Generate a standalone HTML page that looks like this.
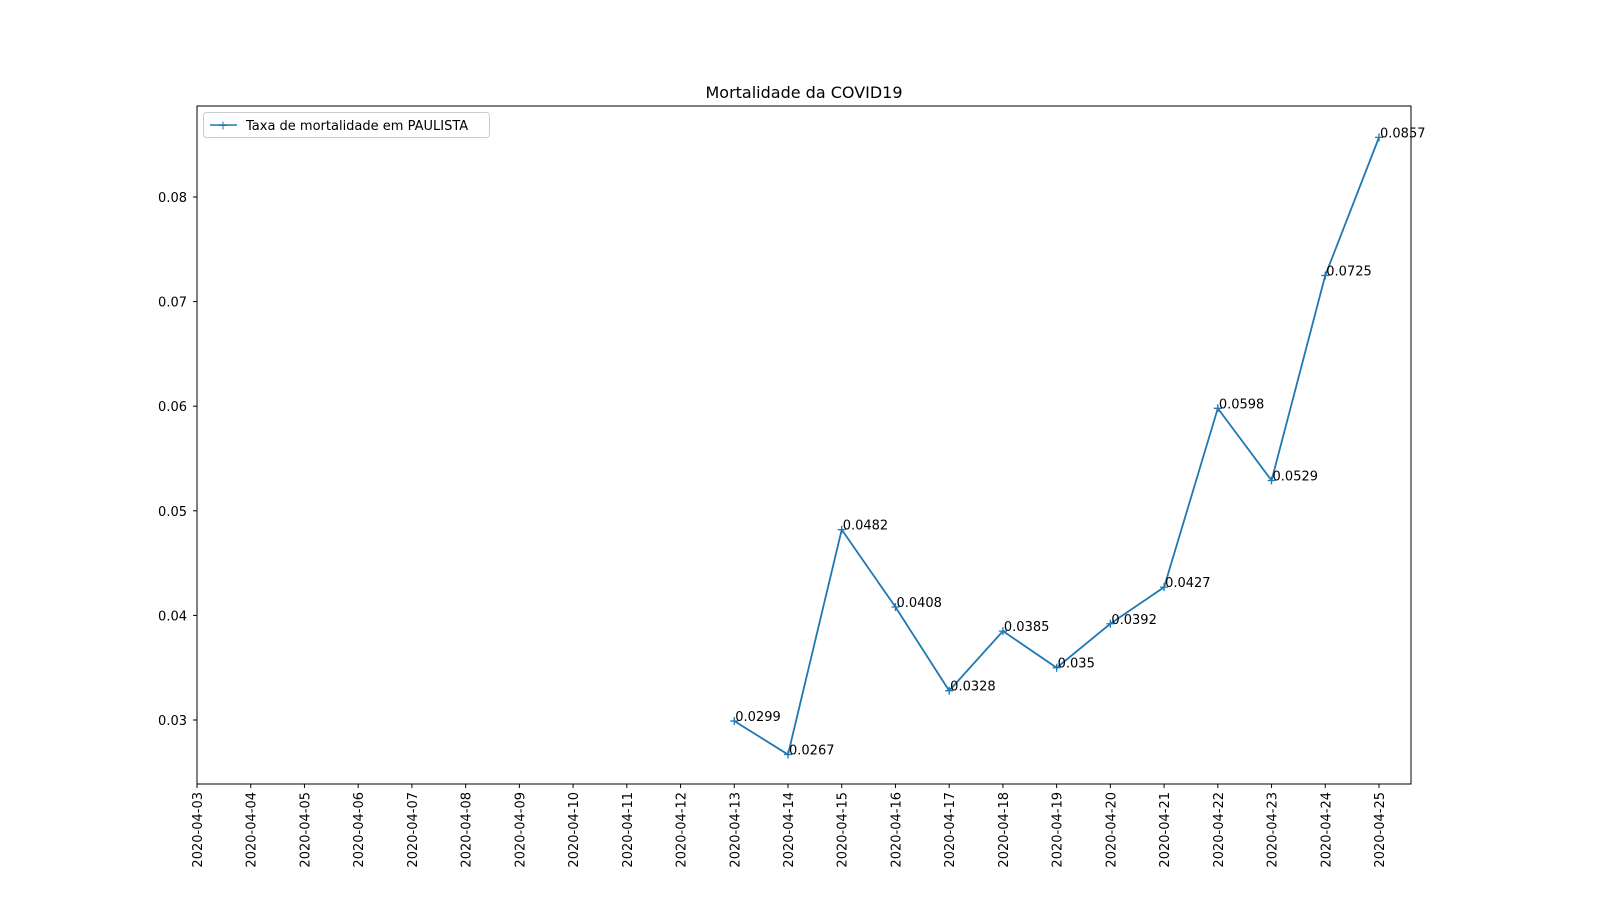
<!DOCTYPE html>
<html><head><meta charset="utf-8"><style>
body{margin:0;background:#fff;}
svg text{font-family:"DejaVu Sans","Liberation Sans",sans-serif;fill:#000;}
</style></head><body>
<svg id="chart" width="1600" height="900" xmlns="http://www.w3.org/2000/svg">
<rect width="1600" height="900" fill="#fff"/>
<text x="804" y="98" font-size="16" text-anchor="middle">Mortalidade da COVID19</text>
<g id="axes"></g>
<g id="marks"></g>
<rect x="197" y="106" width="1214" height="678" fill="none" stroke="#000" stroke-width="1"/>
<g>
<rect x="203.5" y="112.5" width="286" height="25" rx="3" fill="#fff" stroke="#ccc"/>
<line x1="210" y1="125" x2="237" y2="125" stroke="#1f77b4" stroke-width="1.5"/>
<text x="223" y="129.5" font-size="12" fill="#1f77b4" text-anchor="middle" style="fill:#1f77b4">+</text>
<text x="246" y="130" font-size="13">Taxa de mortalidade em PAULISTA</text>
</g>
</svg>
<script>
const dates = ["2020-04-03","2020-04-04","2020-04-05","2020-04-06","2020-04-07","2020-04-08","2020-04-09","2020-04-10","2020-04-11","2020-04-12","2020-04-13","2020-04-14","2020-04-15","2020-04-16","2020-04-17","2020-04-18","2020-04-19","2020-04-20","2020-04-21","2020-04-22","2020-04-23","2020-04-24","2020-04-25"];
const seriesDates = ["2020-04-13","2020-04-14","2020-04-15","2020-04-16","2020-04-17","2020-04-18","2020-04-19","2020-04-20","2020-04-21","2020-04-22","2020-04-23","2020-04-24","2020-04-25"];
const values = [0.0299,0.0267,0.0482,0.0408,0.0328,0.0385,0.035,0.0392,0.0427,0.0598,0.0529,0.0725,0.0857];
const yTicks = [0.03,0.04,0.05,0.06,0.07,0.08];
const yTickLabels = ["0.03","0.04","0.05","0.06","0.07","0.08"];

const NS="http://www.w3.org/2000/svg";
function xScale(d){return 197 + dates.indexOf(d)*(1379-197)/(dates.length-1);}
function yScale(v){return 720 - (v-0.03)*10460;}
function mk(tag,attrs,parent){const e=document.createElementNS(NS,tag);for(const k in attrs)e.setAttribute(k,attrs[k]);parent.appendChild(e);return e;}
const axes=document.getElementById('axes'), marks=document.getElementById('marks');
dates.forEach(d=>{
  const x=xScale(d);
  const t=mk('line',{x1:x,y1:784,x2:x,y2:788,stroke:'#000'},axes);
  
  
  const l=mk('text',{x:0,y:0,'font-size':13,'text-anchor':'end',transform:`translate(${x+5},792) rotate(-90)`},axes);
  l.textContent=d;
  
  
});
yTicks.forEach((v,i)=>{
  const y=yScale(v);
  const t=mk('line',{x1:193,y1:y,x2:197,y2:y,stroke:'#000'},axes);
  
  
  const l=mk('text',{x:187,y:y+5,'font-size':13,'text-anchor':'end'},axes);
  l.textContent=yTickLabels[i];
  
  
});
const pts=seriesDates.map((d,i)=>[xScale(d),yScale(values[i])]);
const line=mk('polyline',{points:pts.map(p=>p.join(',')).join(' '),fill:'none',stroke:'#1f77b4','stroke-width':1.8},marks);


pts.forEach((p,i)=>{
  const m=mk('path',{d:`M${p[0]-4},${p[1]}H${p[0]+4}M${p[0]},${p[1]-4}V${p[1]+4}`,stroke:'#1f77b4','stroke-width':1.3},marks);
  
  
  const l=mk('text',{x:p[0]+1,y:p[1],'font-size':13},marks);
  l.textContent=String(values[i]);
  
  
});
</script>
</body></html>
